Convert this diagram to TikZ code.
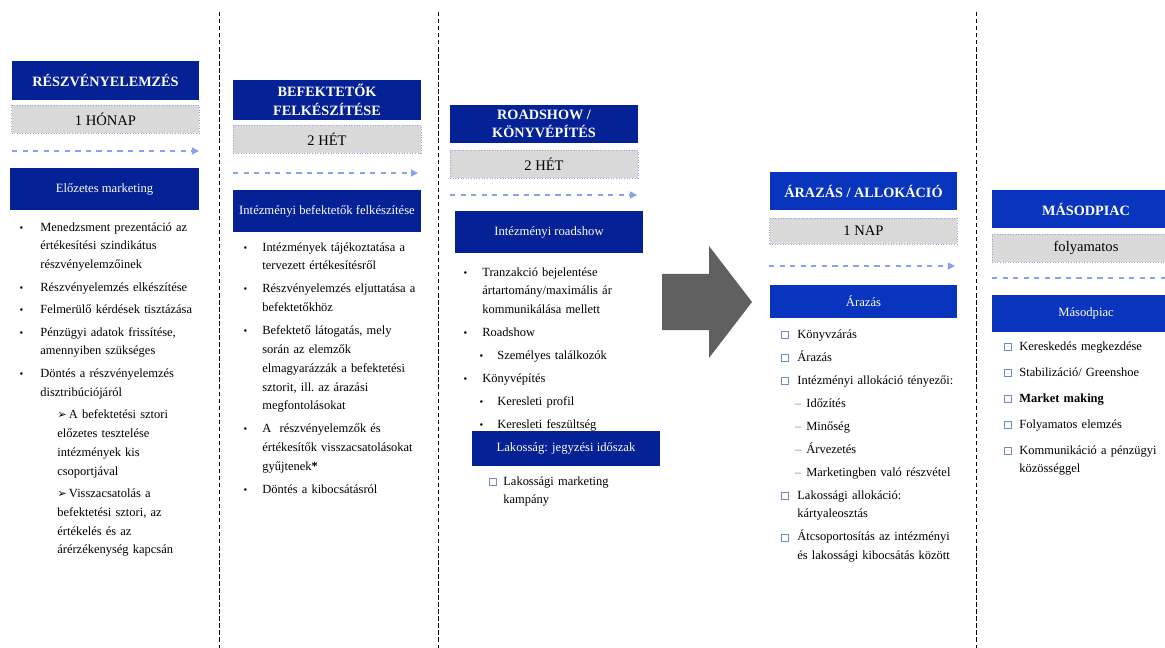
\documentclass[tikz,border=0pt]{standalone}
\usepackage{fontspec}
\setmainfont{Liberation Serif}
\newfontfamily\symfont{DejaVu Sans}
\usetikzlibrary{arrows.meta}

\definecolor{navyA}{RGB}{4,33,150}
\definecolor{navyB}{RGB}{8,52,190}
\definecolor{greyfill}{RGB}{217,217,217}
\definecolor{dotblue}{RGB}{150,165,225}
\definecolor{arrblue}{RGB}{135,162,238}
\definecolor{sqblue}{RGB}{110,140,200}
\definecolor{bigarr}{RGB}{96,96,96}

\newlength\pxu
\setlength\pxu{0.02cm}
\newcommand{\nl}{\newline}
\newcommand{\itm}[4]{{\leftskip=#1\pxu\noindent\llap{#2\hskip#3\pxu}#4\par}}
\newcommand{\bul}{{\fontsize{6}{6}\selectfont •}}
\newcommand{\sqb}{\textcolor{sqblue}{\fboxsep=0pt\fboxrule=0.5pt\fbox{\rule{0pt}{3.6pt}\hspace{3.6pt}}}}
\newcommand{\dsh}{\textcolor{gray}{–}}
\newcommand{\arrw}{{\symfont\fontsize{6.5}{6.5}\selectfont ➢}}

\tikzset{
  titlebox/.style={fill=#1, text=white, font=\fontsize{8.1}{10.6}\selectfont\bfseries, align=center, minimum width=3.76cm, minimum height=0.78cm, inner sep=0pt},
  durbox/.style={fill=greyfill, draw=dotblue, densely dotted, line width=0.5pt, font=\fontsize{8.3}{10}\selectfont, minimum width=3.76cm, minimum height=0.56cm, inner sep=0pt},
  secbox/.style={fill=#1, text=white, font=\fontsize{7.2}{9}\selectfont, minimum width=3.76cm, minimum height=0.84cm, inner sep=0pt},
  itemlist/.style n args={2}{anchor=north west, inner sep=0pt, text width=#1, align=left, font=\fontsize{7.1}{10.7}\selectfont\frenchspacing, execute at begin node={\setlength{\parskip}{#2}}},
  dasharr/.style={arrblue, dashed, line width=0.6pt, -{Triangle[length=4pt,width=4pt]}},
  colsep/.style={dash pattern=on 2.5pt off 1.5pt, line width=0.5pt}
}

\begin{document}
\begin{tikzpicture}[x=0.02cm, y=-0.02cm]

\useasboundingbox (0,0) rectangle (1165,648);

\draw[colsep] (219,12)--(219,648);
\draw[colsep] (438,12)--(438,648);
\draw[colsep] (976,12)--(976,648);


\node[titlebox=navyA] (cim1) at (105.5,80.5) {RÉSZVÉNYELEMZÉS};
\node[durbox] (ido1) at (105.5,119.5) {1 HÓNAP};
\coordinate (nyil1a) at (12,151);
\coordinate (nyil1b) at (199,151);
\draw[dasharr] (nyil1a)--(nyil1b);
\node[secbox=navyA, minimum width=3.78cm] (fej1) at (104.5,189) {Előzetes marketing};

\node[itemlist={4.3cm}{2.1pt}] (lista1) at (0,222) {
\itm{40}{\bul}{17}{Menedzsment prezentáció az\nl értékesítési szindikátus\nl részvényelemzőinek}
\itm{40}{\bul}{17}{Részvényelemzés elkészítése}
\itm{40}{\bul}{17}{Felmerülő kérdések tisztázása}
\itm{40}{\bul}{17}{Pénzügyi adatok frissítése,\nl amennyiben szükséges}
\itm{40}{\bul}{17}{Döntés a részvényelemzés\nl disztribúciójáról}
\itm{57}{}{0}{\arrw\,A befektetési sztori\nl előzetes tesztelése\nl intézmények kis\nl csoportjával}
\itm{57}{}{0}{\arrw\,Visszacsatolás a\nl befektetési sztori, az\nl értékelés és az\nl árérzékenység kapcsán}};


\node[titlebox=navyA, minimum height=0.8cm] (cim2) at (327,100) {BEFEKTETŐK\\FELKÉSZÍTÉSE};
\node[durbox] (ido2) at (327,139) {2 HÉT};
\coordinate (nyil2a) at (233,173);
\coordinate (nyil2b) at (418,173);
\draw[dasharr] (nyil2a)--(nyil2b);
\node[secbox=navyA] (fej2) at (327,211) {Intézményi befektetők felkészítése};

\node[itemlist={4.3cm}{2.4pt}] (lista2) at (220,242) {
\itm{42}{\bul}{15}{Intézmények tájékoztatása a\nl tervezett értékesítésről}
\itm{42}{\bul}{15}{Részvényelemzés eljuttatása a\nl befektetőkhöz}
\itm{42}{\bul}{15}{Befektető látogatás, mely\nl során az elemzők\nl elmagyarázzák a befektetési\nl sztorit, ill. az árazási\nl megfontolásokat}
\itm{42}{\bul}{15}{A~ részvényelemzők és\nl értékesítők visszacsatolásokat\nl gyűjtenek\textbf{*}}
\itm{42}{\bul}{15}{Döntés a kibocsátásról}};


\node[titlebox=navyA] (cim3) at (544,124) {ROADSHOW /\\KÖNYVÉPÍTÉS};
\node[durbox] (ido3) at (544,164) {2 HÉT};
\coordinate (nyil3a) at (450,195);
\coordinate (nyil3b) at (637,195);
\draw[dasharr] (nyil3a)--(nyil3b);
\node[secbox=navyA] (fej3) at (549,232) {Intézményi roadshow};

\node[itemlist={4.3cm}{2.4pt}] (lista3) at (440,267) {
\itm{42}{\bul}{15}{Tranzakció bejelentése\nl ártartomány/maximális ár\nl kommunikálása mellett}
\itm{42}{\bul}{15}{Roadshow}
\itm{57}{\bul}{14}{Személyes találkozók}
\itm{42}{\bul}{15}{Könyvépítés}
\itm{57}{\bul}{14}{Keresleti profil}
\itm{57}{\bul}{14}{Keresleti feszültség}};

\node[secbox=navyA, minimum height=0.7cm] (fej3b) at (566,448.5) {Lakosság: jegyzési időszak};

\node[itemlist={4.3cm}{2.4pt}] (lista3b) at (440,476) {
\itm{63}{\sqb}{6}{Lakossági marketing\nl kampány}};


\fill[bigarr] (662,274)--(709,274)--(709,246)--(752,302)--(709,358)--(709,330)--(662,330)--cycle;


\node[titlebox=navyB] (cim4) at (863.5,191) {ÁRAZÁS / ALLOKÁCIÓ};
\node[durbox, minimum height=0.52cm] (ido4) at (863.5,231) {1 NAP};
\coordinate (nyil4a) at (769,266);
\coordinate (nyil4b) at (955,266);
\draw[dasharr] (nyil4a)--(nyil4b);
\node[secbox=navyB, minimum height=0.66cm] (fej4) at (863.5,301.5) {Árazás};

\node[itemlist={4.2cm}{2.4pt}] (lista4) at (760,329) {
\itm{37}{\sqb}{8}{Könyvzárás}
\itm{37}{\sqb}{8}{Árazás}
\itm{37}{\sqb}{8}{Intézményi allokáció tényezői:}
\itm{46}{\dsh}{5}{Időzítés}
\itm{46}{\dsh}{5}{Minőség}
\itm{46}{\dsh}{5}{Árvezetés}
\itm{46}{\dsh}{5}{Marketingben való részvétel}
\itm{37}{\sqb}{8}{Lakossági allokáció:\nl kártyaleosztás}
\itm{37}{\sqb}{8}{Átcsoportosítás az intézményi\nl és lakossági kibocsátás között}};


\node[titlebox=navyB] (cim5) at (1086,209) {MÁSODPIAC};
\node[durbox] (ido5) at (1086,248) {folyamatos};
\coordinate (nyil5a) at (992,278);
\coordinate (nyil5b) at (1190,278);
\draw[dasharr] (nyil5a)--(nyil5b);
\node[secbox=navyB, minimum height=0.74cm] (fej5) at (1086,313.5) {Másodpiac};

\node[itemlist={3.8cm}{4.1pt}] (lista5) at (976,341) {
\itm{43}{\sqb}{7}{Kereskedés megkezdése}
\itm{43}{\sqb}{7}{Stabilizáció/ Greenshoe}
\itm{43}{\sqb}{7}{\textbf{Market making}}
\itm{43}{\sqb}{7}{Folyamatos elemzés}
\itm{43}{\sqb}{7}{Kommunikáció a pénzügyi\nl közösséggel}};

\end{tikzpicture}
\end{document}
